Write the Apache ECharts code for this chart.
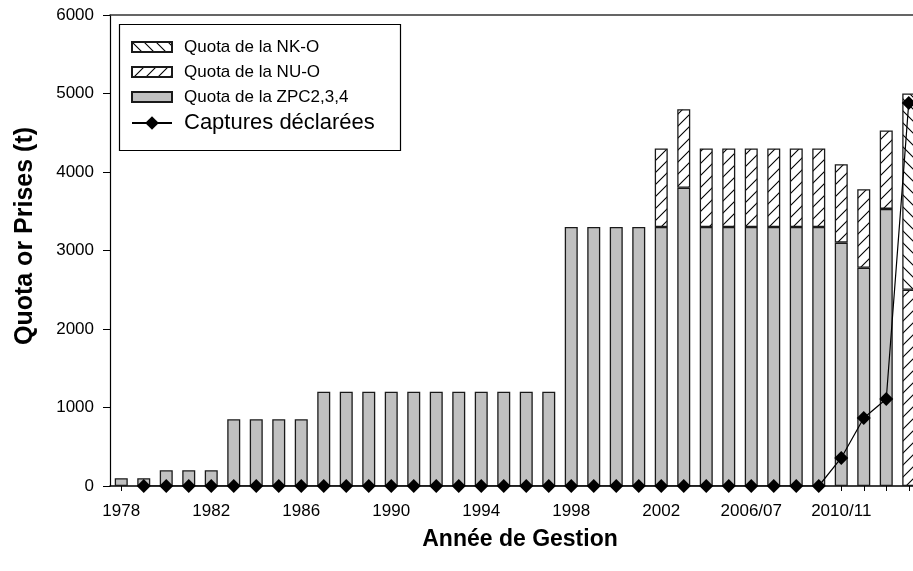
<!DOCTYPE html>
<html>
<head>
<meta charset="utf-8">
<script src="https://cdn.jsdelivr.net/npm/echarts@6/dist/echarts.min.js"></script>
<style>html,body{margin:0;padding:0;background:#fff;overflow:hidden;width:913px;height:571px}#c{width:920px;height:571px}</style>
</head>
<body>
<div id="c"></div>
<script>
var categories = ['1978','1979','1980','1981','1982','1983','1984','1985','1986','1987','1988','1989','1990','1991','1992','1993','1994','1995','1996','1997','1998','1999','2000','2001','2002','2003','2004','2005','2006/07','2007/08','2008/09','2009/10','2010/11','2011/12','2012/13','2013/14'];
var quotaZPC = [100,100,200,200,200,850,850,850,850,1200,1200,1200,1200,1200,1200,1200,1200,1200,1200,1200,3300,3300,3300,3300,3300,3800,3300,3300,3300,3300,3300,3300,3100,2780,3530,null];
var quotaNUO = [null,null,null,null,null,null,null,null,null,null,null,null,null,null,null,null,null,null,null,null,null,null,null,null,1000,1000,1000,1000,1000,1000,1000,1000,1000,1000,1000,2500];
var quotaNKO = [null,null,null,null,null,null,null,null,null,null,null,null,null,null,null,null,null,null,null,null,null,null,null,null,null,null,null,null,null,null,null,null,null,null,null,2500];
var captures = [null,0,0,0,0,0,0,0,0,0,0,0,0,0,0,0,0,0,0,0,0,0,0,0,0,0,0,0,0,0,0,0,357,866,1108,4880];
var yTicks = [0,1000,2000,3000,4000,5000,6000];

function hatch(forward){
  var s = 12, c = document.createElement('canvas');
  c.width = s; c.height = s;
  var g = c.getContext('2d');
  g.fillStyle = '#fff'; g.fillRect(0,0,s,s);
  g.strokeStyle = '#000'; g.lineWidth = 1.1;
  g.beginPath();
  if (forward) {
    g.moveTo(0,s); g.lineTo(s,0);
    g.moveTo(-2,2); g.lineTo(2,-2);
    g.moveTo(s-2,s+2); g.lineTo(s+2,s-2);
  } else {
    g.moveTo(0,0); g.lineTo(s,s);
    g.moveTo(-2,s-2); g.lineTo(2,s+2);
    g.moveTo(s-2,-2); g.lineTo(s+2,2);
  }
  g.stroke();
  return c;
}
var patNU = {image: hatch(true), repeat: 'repeat'};
var patNK = {image: hatch(false), repeat: 'repeat'};

var chart = echarts.init(document.getElementById('c'), null, {renderer: 'canvas'});
var barBorder = {borderColor: '#1a1a1a', borderWidth: 1.3};
chart.setOption({
  animation: false,
  backgroundColor: '#fff',
  textStyle: {fontFamily: 'Liberation Sans, Arial, sans-serif', color: '#000'},
  grid: {left: 110, right: 0, top: 15, bottom: 85, containLabel: false},
  legend: [
    {
      orient: 'vertical', left: 117, top: 22,
      padding: [15, 10, 0, 14],
      itemWidth: 40, itemHeight: 10, itemGap: 5,
      textStyle: {fontSize: 17, lineHeight: 20, color: '#000', padding: [0,0,0,7]},
      data: [
        {name: 'Quota de la NK-O', icon: 'rect'},
        {name: 'Quota de la NU-O', icon: 'rect'},
        {name: 'Quota de la ZPC2,3,4', icon: 'rect'}
      ]
    },
    {
      orient: 'vertical', left: 131, top: 111, padding: 0,
      itemWidth: 40, itemHeight: 17,
      textStyle: {fontSize: 22, lineHeight: 24, color: '#000', padding: [0,0,0,7]},
      data: [{name: 'Captures déclarées'}]
    }
  ],
  graphic: [
    {type: 'rect', left: 117, top: 22, shape: {width: 281, height: 126}, style: {fill: null, stroke: '#000', lineWidth: 1.2}, z: 100},
    {type: 'text', x: 25, y: 236, rotation: Math.PI/2, style: {text: 'Quota or Prises (t)', font: 'bold 25px Liberation Sans, Arial, sans-serif', fill: '#000', textAlign: 'center', textVerticalAlign: 'middle'}},
    {type: 'text', x: 520, y: 540, style: {text: 'Année de Gestion', font: 'bold 23px Liberation Sans, Arial, sans-serif', fill: '#000', textAlign: 'center', textVerticalAlign: 'middle'}}
  ],
  xAxis: [
    {
      type: 'category', data: categories, position: 'bottom', boundaryGap: true,
      axisLine: {lineStyle: {color: '#000', width: 1.5}},
      axisTick: {show: true, alignWithLabel: true, interval: 0, length: 5, lineStyle: {color: '#000'}},
      axisLabel: {interval: 3, fontSize: 17, color: '#000', margin: 17}
    },
    {
      type: 'category', data: categories, position: 'top', boundaryGap: true,
      axisLine: {lineStyle: {color: '#333', width: 1.5}},
      axisTick: {show: false}, axisLabel: {show: false}
    }
  ],
  yAxis: {
    type: 'value', min: yTicks[0], max: yTicks[yTicks.length-1], interval: 1000,
    axisLine: {show: true, lineStyle: {color: '#000', width: 1.2}},
    axisTick: {show: true, length: 7, lineStyle: {color: '#000'}},
    axisLabel: {fontSize: 17, color: '#000', margin: 16, formatter: function(v){ return String(v); }},
    splitLine: {show: false}
  },
  series: [
    {name: 'Quota de la ZPC2,3,4', type: 'bar', stack: 'q', data: quotaZPC, barWidth: 13,
     itemStyle: Object.assign({color: '#c0c0c0'}, barBorder)},
    {name: 'Quota de la NU-O', type: 'bar', stack: 'q', data: quotaNUO, barWidth: 13,
     itemStyle: Object.assign({color: patNU}, barBorder)},
    {name: 'Quota de la NK-O', type: 'bar', stack: 'q', data: quotaNKO, barWidth: 13,
     itemStyle: Object.assign({color: patNK}, barBorder)},
    {name: 'Captures déclarées', type: 'line', data: captures, z: 5,
     symbol: 'diamond', symbolSize: [14, 14], showAllSymbol: true,
     lineStyle: {color: '#000', width: 1.2}, itemStyle: {color: '#000'}}
  ]
});
</script>
</body>
</html>
